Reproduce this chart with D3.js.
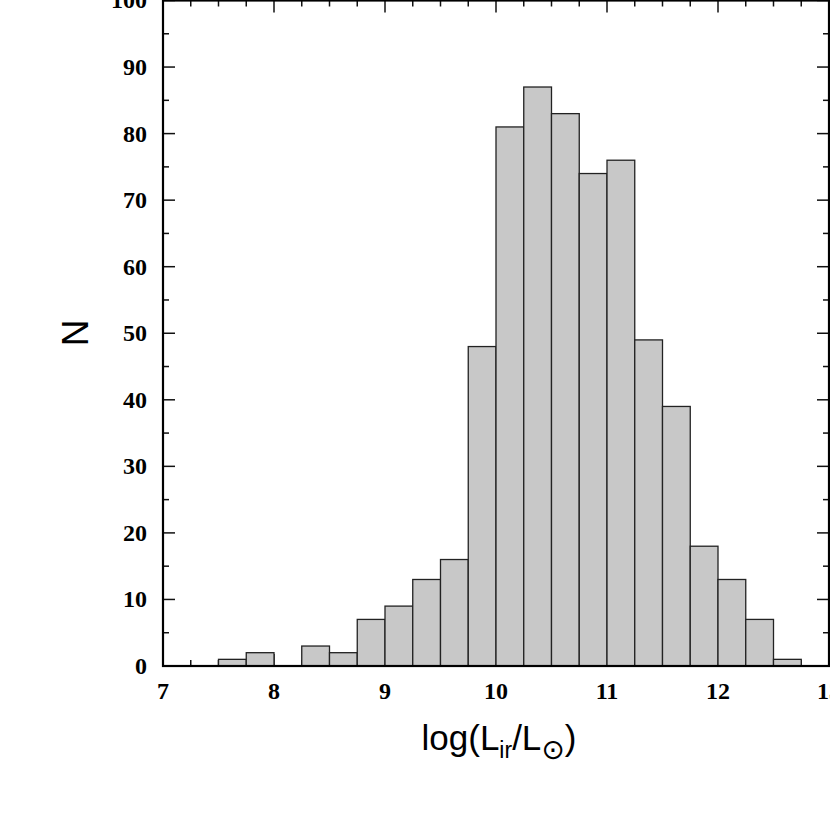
<!DOCTYPE html>
<html>
<head>
<meta charset="utf-8">
<script src="https://cdn.jsdelivr.net/npm/d3@7"></script>
<style>
  html, body { margin: 0; padding: 0; background: #fff; }
  svg { display: block; }
</style>
</head>
<body>
<svg id="chart" width="830" height="830"></svg>
<script>
// Histogram bins (lower edges, width 0.25 in log L) and counts
const binStarts = [7.5, 7.75, 8.0, 8.25, 8.5, 8.75, 9.0, 9.25, 9.5, 9.75,
                   10.0, 10.25, 10.5, 10.75, 11.0, 11.25, 11.5, 11.75, 12.0, 12.25, 12.5];
const binWidth = 0.25;
const counts = [1, 2, 0, 3, 2, 7, 9, 13, 16, 48,
                81, 87, 83, 74, 76, 49, 39, 18, 13, 7, 1];
const xTickLabels = [7, 8, 9, 10, 11, 12, 13];
const yTickLabels = [0, 10, 20, 30, 40, 50, 60, 70, 80, 90, 100];
const xDomain = [7, 13];
const yDomain = [0, 100];

(function () {
const svg = d3.select("#chart");
const pLeft = 163, pRight = 829, pTop = 0.5, pBottom = 666;

const x = d3.scaleLinear().domain(xDomain).range([pLeft, pRight]);
const y = d3.scaleLinear().domain(yDomain).range([pBottom, pTop]);

const xMinor = d3.range(xDomain[0], xDomain[1] + 1e-9, 0.25);
const yMinor = d3.range(yDomain[0], yDomain[1] + 1e-9, 5);
const isMajorX = v => Math.abs(v - Math.round(v)) < 1e-9;
const isMajorY = v => v % 10 === 0;

const tickG = svg.append("g").attr("stroke", "#111").attr("stroke-width", 1.5);
// bottom & top ticks
xMinor.forEach(v => {
  const len = isMajorX(v) ? 12 : 6;
  tickG.append("line").attr("x1", x(v)).attr("x2", x(v)).attr("y1", pBottom).attr("y2", pBottom - len);
  tickG.append("line").attr("x1", x(v)).attr("x2", x(v)).attr("y1", pTop).attr("y2", pTop + len);
});
// left & right ticks
yMinor.forEach(v => {
  const len = isMajorY(v) ? 12 : 6;
  tickG.append("line").attr("x1", pLeft).attr("x2", pLeft + len).attr("y1", y(v)).attr("y2", y(v));
  tickG.append("line").attr("x1", pRight).attr("x2", pRight - len).attr("y1", y(v)).attr("y2", y(v));
});

// bars
svg.append("g").selectAll("rect")
  .data(binStarts.map((s, i) => ({ s, n: counts[i] })).filter(d => d.n > 0))
  .join("rect")
  .attr("x", d => x(d.s))
  .attr("width", d => x(d.s + binWidth) - x(d.s))
  .attr("y", d => y(d.n))
  .attr("height", d => y(0) - y(d.n))
  .attr("fill", "#c8c8c8")
  .attr("stroke", "#222")
  .attr("stroke-width", 1.3);

// frame
svg.append("rect")
  .attr("x", pLeft).attr("y", pTop)
  .attr("width", pRight - pLeft).attr("height", pBottom - pTop)
  .attr("fill", "none").attr("stroke", "#000").attr("stroke-width", 2.2);

// tick labels
const tickFont = "'Liberation Serif', 'Times New Roman', serif";
svg.append("g").selectAll("text")
  .data(xTickLabels)
  .join("text")
  .attr("x", d => x(d))
  .attr("y", 699)
  .attr("text-anchor", "middle")
  .attr("font-family", tickFont)
  .attr("font-weight", "bold")
  .attr("font-size", 24)
  .text(d => d);

svg.append("g").selectAll("text")
  .data(yTickLabels)
  .join("text")
  .attr("x", 147)
  .attr("y", d => y(d))
  .attr("dy", "0.33em")
  .attr("text-anchor", "end")
  .attr("font-family", tickFont)
  .attr("font-weight", "bold")
  .attr("font-size", 24)
  .text(d => d);

// axis titles
const titleFont = "'Liberation Sans', Arial, sans-serif";
svg.append("text")
  .attr("transform", "translate(88,333) rotate(-90)")
  .attr("text-anchor", "middle")
  .attr("font-family", titleFont)
  .attr("font-size", 37)
  .text("N");

const xt = svg.append("text")
  .attr("x", 499).attr("y", 750)
  .attr("text-anchor", "middle")
  .attr("font-family", titleFont)
  .attr("font-size", 35);
xt.append("tspan").text("log(L");
xt.append("tspan").attr("font-size", 23).attr("dy", 8).text("ir");
xt.append("tspan").attr("dy", -8).text("/L");
xt.append("tspan").attr("font-family", "'DejaVu Sans', sans-serif").attr("font-size", 28).attr("dy", 9).text("⊙");
xt.append("tspan").attr("dy", -9).text(")");
})();
</script>
</body>
</html>
